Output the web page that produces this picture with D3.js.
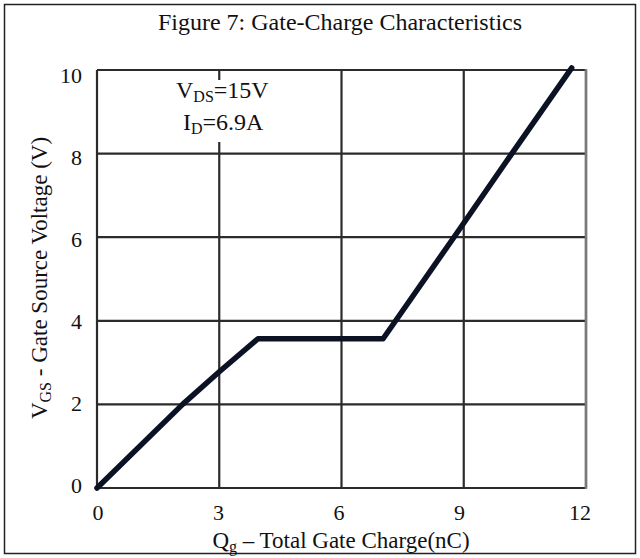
<!DOCTYPE html>
<html>
<head>
<meta charset="utf-8">
<script src="https://cdn.jsdelivr.net/npm/d3@7/dist/d3.min.js"></script>
<style>
  html, body { margin: 0; padding: 0; background: #fff; }
  svg { display: block; }
  text { font-family: "Liberation Serif", "Times New Roman", serif; fill: #111; }
</style>
</head>
<body>
<script>
// Gate charge curve: Qg (nC) vs VGS (V)
const chargeNC = [0, 2.1, 3.0, 3.95, 7.02, 8.76, 10.18, 11.65];
const vgsVolts = [0, 2.0, 2.78, 3.57, 3.57, 6.0, 8.0, 10.05];
const xTicks = [0, 3, 6, 9, 12];
const yTicks = [0, 2, 4, 6, 8, 10];

const W = 640, H = 558;
const m = { left: 97, right: 54, top: 70, bottom: 70 };

const svg = d3.select("body").append("svg").attr("width", W).attr("height", H);

// outer frame
svg.append("rect").attr("x", 4.5).attr("y", 4.5).attr("width", W - 9).attr("height", H - 9)
  .attr("fill", "none").attr("stroke", "#222").attr("stroke-width", 1.5);

const x = d3.scaleLinear().domain([0, 12]).range([m.left, W - m.right]);
const y = d3.scaleLinear().domain([0, 10]).range([H - m.bottom, m.top]);
// tick label placement scales
const xLab = d3.scaleLinear().domain([0, 12]).range([98, 580]);
const yLab = d3.scaleLinear().domain([0, 10]).range([484.5, 74.5]);

// title
svg.append("text").attr("x", 340).attr("y", 30).attr("text-anchor", "middle")
  .attr("font-size", 24).text("Figure 7: Gate-Charge Characteristics");

// grid
const g = svg.append("g");
g.selectAll("line.v").data(xTicks).join("line")
  .attr("x1", d => x(d)).attr("x2", d => x(d)).attr("y1", y(0)).attr("y2", y(10))
  .attr("stroke", "#2b2b2b").attr("stroke-width", 2.2);
g.selectAll("line.h").data(yTicks).join("line")
  .attr("x1", x(0)).attr("x2", x(12)).attr("y1", d => y(d)).attr("y2", d => y(d))
  .attr("stroke", "#2b2b2b").attr("stroke-width", 2.2);
// right edge of plot drawn lighter
g.append("line").attr("x1", x(12)).attr("x2", x(12)).attr("y1", y(0) + 1).attr("y2", y(10) - 1)
  .attr("stroke", "#7a7a7a").attr("stroke-width", 2.5);

// annotation box (white background covering grid)
svg.append("rect").attr("x", 168).attr("y", 80).attr("width", 112).attr("height", 62).attr("fill", "#fff");
const ann = svg.append("g").attr("font-size", 24);
const t1 = ann.append("text").attr("x", 176).attr("y", 98);
t1.append("tspan").text("V");
t1.append("tspan").attr("font-size", 16).attr("dy", 4).text("DS");
t1.append("tspan").attr("dy", -4).text("=15V");
const t2 = ann.append("text").attr("x", 183).attr("y", 130);
t2.append("tspan").text("I");
t2.append("tspan").attr("font-size", 16).attr("dy", 4).text("D");
t2.append("tspan").attr("dy", -4).text("=6.9A");

// curve
const pts = chargeNC.map((q, i) => [q, vgsVolts[i]]);
svg.append("path").datum(pts)
  .attr("d", d3.line().x(d => x(d[0])).y(d => y(d[1])))
  .attr("fill", "none").attr("stroke", "#0b1224").attr("stroke-width", 5.5)
  .attr("stroke-linejoin", "round").attr("stroke-linecap", "round");

// tick labels
svg.append("g").selectAll("text").data(yTicks).join("text")
  .attr("x", 82).attr("y", d => yLab(d) + 8).attr("text-anchor", "end")
  .attr("font-size", 22).text(d => d);
svg.append("g").selectAll("text").data(xTicks).join("text")
  .attr("x", d => xLab(d)).attr("y", 520).attr("text-anchor", "middle")
  .attr("font-size", 22).text(d => d);

// axis titles
const xl = svg.append("text").attr("x", 341).attr("y", 548).attr("text-anchor", "middle").attr("font-size", 23);
xl.append("tspan").text("Q");
xl.append("tspan").attr("font-size", 16).attr("dy", 4).text("g");
xl.append("tspan").attr("dy", -4).text(" \u2013 Total Gate Charge(nC)");

const yl = svg.append("text").attr("transform", "translate(47,278) rotate(-90)")
  .attr("text-anchor", "middle").attr("font-size", 23);
yl.append("tspan").text("V");
yl.append("tspan").attr("font-size", 16).attr("dy", 4).text("GS");
yl.append("tspan").attr("dy", -4).text(" - Gate Source Voltage (V)");
</script>
</body>
</html>
